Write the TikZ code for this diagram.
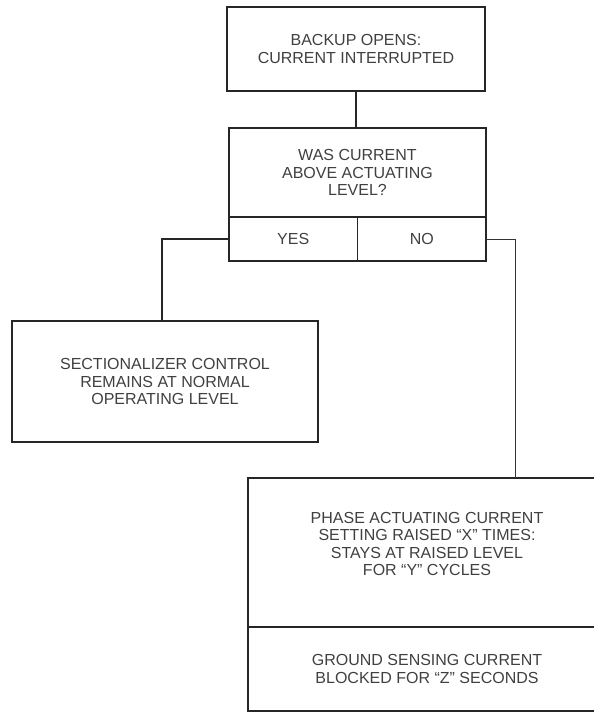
\documentclass[tikz,border=0pt]{standalone}
\usepackage{fontspec}
\setsansfont{Liberation Sans}
\usetikzlibrary{positioning}

\tikzset{
  box/.style={draw=black!85,line width=1.4pt,rectangle,outer sep=0pt,inner sep=2pt,
    align=center,text=black!75,font=\sffamily\fontsize{16}{17.5}\selectfont},
  wire/.style={draw=black!85,line width=1.3pt},
  thinwire/.style={draw=black!80,line width=1pt}
}

\begin{document}
\begin{tikzpicture}[x=1pt,y=-1pt]
  \useasboundingbox (0,0) rectangle (594,713);
  \clip (0,0) rectangle (594,713);
  % boxes
  \node[box,minimum width=258,minimum height=84] (backup) at (356,49)
    {BACKUP OPENS:\\CURRENT INTERRUPTED};
  \node[box,minimum width=257,minimum height=89] (question) at (357.5,172.5)
    {WAS CURRENT\\ABOVE ACTUATING\\LEVEL?};
  \node[box,minimum width=128.5,minimum height=44,anchor=north west] (yes) at (question.south west) {YES};
  \node[box,minimum width=128.5,minimum height=44,anchor=north east] (no) at (question.south east) {NO};
  \node[box,minimum width=306,minimum height=121] (normal) at (165,381.5)
    {\rule{0pt}{12pt}SECTIONALIZER CONTROL\\REMAINS AT NORMAL\\OPERATING LEVEL};
  \node[box,minimum width=358,minimum height=149] (phase) at (427,552.5)
    {PHASE ACTUATING CURRENT\\SETTING RAISED ``X'' TIMES:\\STAYS AT RAISED LEVEL\\FOR ``Y'' CYCLES\rule[-17pt]{0pt}{0pt}};
  \node[box,minimum width=358,minimum height=84,below=0pt of phase] (ground)
    {GROUND SENSING CURRENT\\BLOCKED FOR ``Z'' SECONDS};
  % connectors
  \draw[wire] (backup.south) -- (backup.south |- question.north);
  \draw[wire] (yes.west) -| ([xshift=-3pt]normal.north);
  \draw[thinwire] (no.east) -| ([xshift=88pt]phase.north);
\end{tikzpicture}
\end{document}
